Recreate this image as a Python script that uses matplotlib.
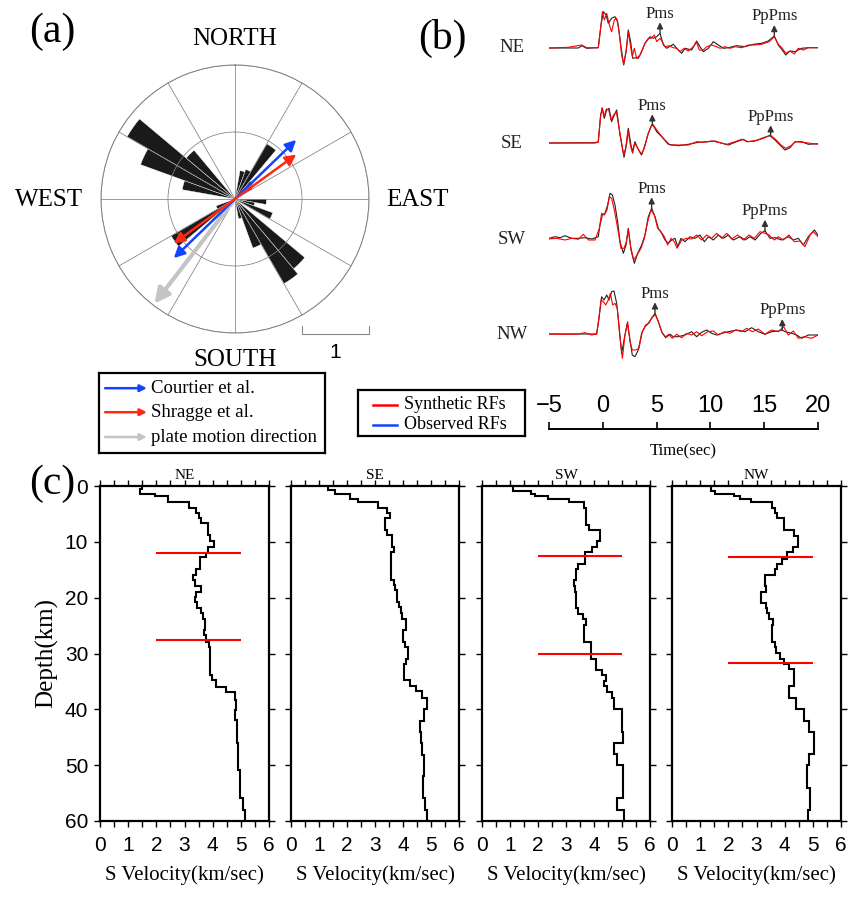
import numpy as np
import matplotlib
matplotlib.use('Agg')
import matplotlib.pyplot as plt
from matplotlib.lines import Line2D

W, H = 848, 902
SERIF = ['Liberation Serif', 'DejaVu Serif']
SANS = ['Liberation Sans', 'DejaVu Sans']
plt.rcParams['font.family'] = SANS

# ---------------- data ----------------
# (a) rose diagram: bin start azimuth (deg, 10 deg bins) and length
rose_az = [10, 20, 30, 40, 50, 90, 100, 110, 130, 140, 150, 160, 230, 240, 280, 290, 300, 310]
rose_len = [0.43, 0.47, 0.95, 0.35, 0.30, 0.47, 0.30, 0.60, 1.36, 1.46, 0.78, 0.30, 1.10, 0.30, 0.80, 1.50, 1.86, 0.95]

# fast directions (azimuth deg, half length)
courtier_az, courtier_len = 46, 1.27
shragge_az, shragge_len = 54, 1.13
plate_az, plate_len = 217.6, 1.97

# (b) receiver functions: (time s, amplitude)
ne_obs = [(-5.0, 0), (-2.27, 0), (-1.96, 2.3), (-1.50, -0.3), (-0.42, 0.3), (-0.17, 23), (0.05, 36.3),
          (0.30, 33), (0.51, 24.7), (0.82, 29.7), (1.13, 31.3), (1.38, 26.3), (1.69, 1.3), (1.94, -17),
          (2.16, -3.7), (2.37, 18), (2.59, 6.3), (2.78, -10.3), (3.05, -9.7), (3.30, -10.3), (3.61, -3.7),
          (3.92, 4.7), (4.39, 11.3), (4.70, 9.7), (5.01, 11.3), (5.32, 14.7), (5.63, 3), (5.94, -0.3),
          (6.55, 3.7), (7.02, -2), (7.33, -5.3), (7.64, -0.3), (8.26, -2), (8.72, 7), (9.03, 1.3),
          (9.34, -3.7), (9.81, -0.3), (10.27, 6.3), (10.74, 3), (11.20, -0.3), (11.67, 0.3), (12.44, 2.3),
          (13.22, 1.3), (13.99, 3.7), (14.76, 4.7), (15.38, 7), (15.94, 12), (16.31, 3), (16.68, -2),
          (17.00, -7), (17.40, -3), (17.86, -3.7), (18.48, -0.3), (19.10, 0.3), (20.0, 0.3)]
ne_syn = [(-5.0, 0), (-3.20, 0.7), (-1.96, 3), (-1.50, 0.3), (-0.42, 0.3), (-0.20, 19.7), (-0.04, 36.3),
          (0.14, 28), (0.36, 34.7), (0.61, 23), (0.82, 16.3), (1.07, 28), (1.29, 29.7), (1.50, 18),
          (1.75, -7), (1.94, -16.3), (2.19, -2), (2.37, 16.3), (2.56, 3), (2.74, -8.7), (2.93, -0.3),
          (3.15, -10.3), (3.46, -7), (3.92, 4.7), (4.23, 9.7), (4.48, 9.7), (4.79, 13), (5.01, 6.3),
          (5.32, 9.7), (5.53, 6.3), (5.78, 1.3), (6.15, 2.3), (6.55, 0.3), (6.86, -0.3), (7.17, -3.7),
          (7.58, -0.3), (7.95, -3), (8.41, 1.3), (8.72, 5.7), (8.97, -2), (9.34, -2), (9.65, 1.3),
          (10.12, 3), (10.58, 1.3), (10.89, -0.3), (11.36, 1.3), (11.82, -0.3), (12.29, 1.3), (12.91, 0.3),
          (13.53, 3), (14.15, 3), (14.76, 3.7), (15.45, 6.3), (15.94, 11.3), (16.31, 3.7), (16.68, -0.3),
          (17.00, -5.3), (17.40, -3), (17.80, -6), (18.17, -0.3), (18.64, -2), (19.10, 0.3), (20.0, 0.3)]
se_obs = [(-5.0, 0), (-0.72, 0.3), (-0.42, 1.3), (-0.20, 28), (-0.04, 34.7), (0.14, 24.7), (0.36, 33),
          (0.58, 34.7), (0.82, 21.3), (1.07, 28), (1.29, 33), (1.60, 8), (1.97, -14.3), (2.22, -0.3),
          (2.37, 14.7), (2.59, -0.3), (2.74, -8.7), (2.99, 1.3), (3.24, -5.3), (3.61, -12), (3.92, -2),
          (4.23, 9.7), (4.54, 18), (4.70, 17.3), (5.01, 11.3), (5.47, 6.3), (6.09, -1.3), (7.02, -2.7),
          (7.95, -1.3), (8.88, 0.7), (9.81, 1.3), (10.43, 2), (10.89, 0.3), (11.67, -2), (12.29, 0.7),
          (13.06, 3.7), (13.37, 1.3), (14.15, 2), (14.92, 5.3), (15.54, 7.3), (16.00, 3), (16.47, -2),
          (16.93, -7), (17.40, -4.7), (17.86, 1.3), (18.48, 1.3), (19.10, -1.3), (20.0, -0.7)]
se_syn = [(-5.0, 0), (-0.72, 0), (-0.42, 0.7), (-0.23, 24.3), (-0.07, 35.3), (0.11, 26.3), (0.33, 34),
          (0.55, 33), (0.76, 23), (1.01, 28), (1.26, 31.3), (1.57, 11.3), (1.94, -12), (2.12, -5.3),
          (2.34, 13), (2.56, -2), (2.78, -10.3), (2.96, -0.3), (3.18, -3.7), (3.55, -11.3), (3.86, -5.3),
          (4.17, 8), (4.48, 16.3), (4.66, 18.7), (4.91, 14.7), (5.32, 8.7), (5.78, 3), (6.25, -2),
          (7.02, -2), (7.95, -2), (8.72, 1.3), (9.34, 0.7), (10.12, 2), (10.74, 0.7), (11.51, -1.3),
          (12.29, 1.3), (12.91, 3.7), (13.53, 1.3), (14.45, 3), (15.07, 5.3), (15.54, 8), (16.06, 3.7),
          (16.56, -2), (17.00, -5.3), (17.49, -2.7), (17.92, 1.3), (18.64, 0.7), (19.26, -0.3), (20.0, -1.3)]
sw_obs = [(-5.0, 1.7), (-4.44, 3.3), (-3.98, 2.3), (-3.51, 4.3), (-2.89, 1.7), (-2.27, 1.7), (-1.65, 2.3),
          (-1.03, 1), (-0.42, 3.3), (-0.26, 15), (-0.04, 25), (0.20, 26.7), (0.45, 35), (0.67, 46.7),
          (0.89, 45), (1.13, 35), (1.38, 18.3), (1.60, -1.7), (1.91, -13.3), (2.16, -5), (2.37, 11.7),
          (2.62, -10), (2.93, -23.3), (3.24, -13.3), (3.61, -5), (3.92, 5), (4.23, 23.3), (4.54, 31.7),
          (4.85, 23.3), (5.16, 11.7), (5.47, 6.7), (5.78, 0), (6.09, -3.3), (6.40, 0), (6.71, 1.7),
          (6.96, -6.7), (7.27, 1.7), (7.64, -1.7), (8.10, 3.3), (8.57, 1.7), (9.03, 5), (9.44, -1.7),
          (9.81, 3.3), (10.27, 0), (10.74, 5), (11.20, 1.7), (11.67, 5), (12.13, 0), (12.75, 3.3),
          (13.22, 0), (13.68, 3.3), (14.15, 0), (14.70, 6.7), (15.07, 9.3), (15.54, 1.7), (16.00, 2.3),
          (16.62, 0), (17.24, 3.3), (17.71, 0), (18.17, 1.7), (18.64, -5), (19.10, 3.3), (19.66, 10), (20.0, 5)]
sw_syn = [(-5.0, 1), (-4.29, 1.7), (-3.51, 0), (-2.89, 1.7), (-2.27, 0.7), (-1.81, 5.7), (-1.34, 0),
          (-0.72, 0), (-0.32, 11.7), (-0.11, 26.7), (0.14, 25), (0.39, 30), (0.61, 43.3), (0.82, 41.7),
          (1.07, 30), (1.38, 11.7), (1.69, -8.3), (1.97, -8.3), (2.19, -1.7), (2.37, 10), (2.59, -6.7),
          (2.87, -20), (3.18, -15), (3.55, -8.3), (3.86, 1.7), (4.17, 18.3), (4.48, 30), (4.79, 25),
          (5.10, 11.7), (5.41, 8.3), (5.72, 3.3), (6.03, -5), (6.34, 1.7), (6.65, -1.7), (6.90, -8.3),
          (7.33, 0), (7.79, 1.7), (8.26, 1), (8.72, 5), (9.19, 0), (9.65, 5), (10.12, 1.7), (10.58, 6.7),
          (11.05, 1.7), (11.51, 6.7), (11.98, 1), (12.53, 5), (13.06, 0), (13.59, 5), (14.08, 1.7),
          (14.61, 8.3), (15.07, 6.7), (15.45, 5), (15.94, 0), (16.31, 3.3), (16.78, 0), (17.30, 5),
          (17.80, -1.7), (18.33, -1), (18.79, -6.7), (19.26, 5), (19.57, 8.3), (20.0, 3.3)]
nw_obs = [(-5.0, 0), (-2.89, 0), (-1.34, 0), (-0.57, 0), (-0.35, 15.7), (-0.11, 37.3), (0.11, 34),
          (0.36, 39), (0.58, 34), (0.82, 42.3), (1.04, 43), (1.29, 30.7), (1.50, 9), (1.75, -19.3),
          (2.00, -4.3), (2.28, 10.7), (2.53, -6), (2.74, -21), (2.99, -22.7), (3.30, -16), (3.61, 0.7),
          (3.92, 7.3), (4.23, 10.7), (4.54, 15.7), (4.85, 20.7), (5.16, 12.3), (5.47, 2.3), (5.84, -3.7),
          (6.25, -0.3), (6.55, -2.7), (7.02, -2.7), (7.64, -1), (8.26, 2.3), (8.72, -2.7), (9.19, 1.7),
          (9.65, 4), (10.12, 0.7), (10.58, -1), (11.05, 0.7), (11.67, 2.3), (12.44, 4), (13.22, 2.3),
          (13.83, 6.3), (14.45, 2.3), (15.07, -0.3), (15.69, 2.3), (16.31, 3), (16.68, 4), (16.93, 2.3),
          (17.55, 0.7), (18.02, -1), (18.48, -4.3), (19.10, -1), (20.0, -1)]
nw_syn = [(-5.0, 0), (-3.51, -0.3), (-2.27, 0), (-1.65, 1.3), (-1.03, -1), (-0.57, 0), (-0.35, 17.3),
          (-0.17, 34), (0.05, 32.3), (0.27, 29), (0.51, 34), (0.70, 40.7), (0.92, 29), (1.13, 30.7),
          (1.35, 25.7), (1.57, -1), (1.82, -24.3), (2.06, -1), (2.31, 12.3), (2.53, -7.7), (2.74, -16),
          (3.05, -16), (3.36, -14.3), (3.67, 2.3), (3.98, 9), (4.29, 10.7), (4.60, 17.3), (4.91, 19),
          (5.22, 10.7), (5.53, 0.7), (5.84, -2.7), (6.15, -0.3), (6.46, -4.3), (6.86, -0.3), (7.33, -3.7),
          (7.79, 0.7), (8.26, -1), (8.72, 2.3), (9.19, -1.7), (9.75, 2.3), (10.27, 3), (10.74, -1),
          (11.29, 2.3), (11.82, 0.7), (12.35, 4), (12.91, 2.3), (13.37, 5.7), (13.90, 2.3), (14.45, 5),
          (15.07, -0.3), (15.69, 4), (16.31, 2.3), (16.81, 7.3), (17.24, -1), (17.71, 3), (18.17, -4.3),
          (18.73, -2.7), (19.41, -4.3), (20.0, -1)]

quadrants = ['NE', 'SE', 'SW', 'NW']
pms_t = [5.32, 4.60, 4.54, 4.85]
pppms_t = [15.94, 15.60, 15.07, 16.68]
time_ticks = [-5, 0, 5, 10, 15, 20]

# (c) S-velocity models: layer top depth (km) and Vs (km/s)
ne_top = [0, 0.5, 1.4, 1.8, 2.9, 3.9, 4.8, 5.8, 6.7, 8.8, 9.8, 10.9, 12.0, 12.8, 14.9, 16.0, 16.9, 17.9,
          19.0, 19.9, 20.8, 21.8, 22.8, 23.9, 25.8, 26.7, 27.9, 28.8, 33.9, 34.8, 36.0, 36.9, 38.3, 40.1,
          41.9, 46.1, 50.9, 55.9, 58.0]
ne_vs = [1.48, 1.43, 1.95, 2.42, 3.15, 3.40, 3.52, 3.57, 3.84, 3.90, 4.05, 3.84, 3.76, 3.54, 3.42, 3.31,
         3.38, 3.60, 3.42, 3.37, 3.45, 3.58, 3.66, 3.74, 3.70, 3.78, 3.86, 3.92, 3.99, 4.11, 4.49, 4.81,
         4.84, 4.81, 4.87, 4.91, 4.96, 5.08, 5.16]
se_top = [0, 0.8, 1.5, 2.4, 2.9, 3.9, 4.8, 5.8, 7.9, 8.8, 10.9, 11.9, 16.9, 17.8, 18.7, 20.7, 21.6, 22.8,
          23.9, 25.8, 27.9, 28.8, 30.9, 31.8, 34.8, 35.9, 36.8, 38.0, 40.0, 42.0, 44.0, 46.0, 48.2, 52.0,
          55.9, 58.0]
se_vs = [1.33, 1.57, 2.10, 2.40, 3.11, 3.43, 3.53, 3.34, 3.43, 3.61, 3.68, 3.56, 3.68, 3.72, 3.79, 3.86,
         3.93, 3.98, 4.09, 4.00, 4.08, 4.17, 4.09, 4.05, 4.24, 4.48, 4.69, 4.84, 4.74, 4.62, 4.66, 4.69,
         4.75, 4.72, 4.78, 4.85]
sw_top = [0, 0.9, 1.5, 1.8, 2.4, 2.9, 3.9, 6.9, 7.9, 9.9, 10.9, 11.8, 13.9, 14.9, 16.9, 17.9, 19.0, 21.8,
          22.9, 23.9, 24.9, 27.9, 30.9, 32.9, 33.9, 34.9, 35.9, 36.9, 38.0, 40.0, 44.0, 46.0, 48.0, 50.0,
          55.9, 58.0]
sw_vs = [1.12, 1.74, 1.90, 2.35, 3.12, 3.65, 3.71, 3.82, 4.21, 4.12, 3.94, 3.68, 3.44, 3.37, 3.29, 3.33,
         3.37, 3.44, 3.62, 3.71, 3.65, 3.88, 4.06, 4.27, 4.43, 4.36, 4.45, 4.63, 4.73, 4.99, 5.02, 4.71,
         4.83, 5.05, 4.83, 5.07]
nw_top = [0, 0.9, 1.5, 1.8, 2.4, 2.9, 3.9, 4.8, 5.8, 7.9, 8.9, 10.9, 11.8, 13.0, 13.9, 14.9, 15.9, 17.9,
          18.9, 20.9, 21.8, 22.8, 23.9, 24.9, 27.9, 28.8, 29.9, 30.9, 31.8, 32.8, 35.9, 38.0, 40.0, 42.0,
          44.0, 48.0, 50.0, 54.0, 58.0]
nw_vs = [1.38, 1.53, 2.21, 2.42, 2.81, 3.56, 3.64, 3.72, 3.96, 4.32, 4.49, 4.29, 4.08, 3.90, 3.72, 3.64,
         3.31, 3.34, 3.17, 3.34, 3.39, 3.45, 3.60, 3.54, 3.64, 3.69, 3.82, 3.98, 4.14, 4.32, 4.17, 4.41,
         4.67, 4.85, 5.03, 4.85, 4.79, 4.89, 4.83]
# interface depths (red bars) for each quadrant
interfaces = [[12.0, 27.5], [], [12.5, 30.0], [12.8, 31.7]]


def box(l, t, r, b):
    return [l / W, 1 - b / H, (r - l) / W, (b - t) / H]


fig = plt.figure(figsize=(W / 100, H / 100), dpi=100)

# ---------------- (a) rose diagram ----------------
ax = fig.add_axes(box(101, 65, 369, 333), projection='polar')
ax.set_theta_zero_location('N')
ax.set_theta_direction(-1)
ax.bar(np.deg2rad(np.array(rose_az) + 5), rose_len, width=np.deg2rad(10), color='#1a1a1a',
       edgecolor='white', linewidth=0.3, zorder=1)
ax.set_ylim(0, 2)
ax.set_xticks(np.deg2rad(np.arange(0, 360, 30)))
ax.set_xticklabels([''] * 12)
ax.set_yticks([1, 2])
ax.set_yticklabels(['', ''])
ax.grid(True, color='#808080', lw=0.55)
ax.set_axisbelow(False)
ax.spines['polar'].set_color('#808080')
ax.spines['polar'].set_linewidth(0.7)

ax.annotate('', xy=(np.deg2rad(courtier_az), courtier_len),
            xytext=(np.deg2rad(courtier_az + 180), courtier_len),
            arrowprops=dict(arrowstyle='<|-|>', color='#1244ff', lw=1.8, mutation_scale=16,
                            shrinkA=0, shrinkB=0), zorder=5)
ax.annotate('', xy=(np.deg2rad(shragge_az), shragge_len),
            xytext=(np.deg2rad(shragge_az + 180), shragge_len),
            arrowprops=dict(arrowstyle='<|-|>', color='#ff2a14', lw=1.8, mutation_scale=16,
                            shrinkA=0, shrinkB=0), zorder=6)
ax.annotate('', xy=(np.deg2rad(plate_az), plate_len), xytext=(0, 0),
            arrowprops=dict(arrowstyle='-|>', color='#c4c4c4', lw=3, mutation_scale=22,
                            shrinkA=0, shrinkB=0), zorder=4)

# scale bar (1 unit = ring spacing)
fig.add_artist(Line2D([302 / W, 302 / W, 369 / W, 369 / W],
                      [1 - 326 / H, 1 - 334 / H, 1 - 334 / H, 1 - 326 / H], color='#888888', lw=0.8))
fig.text(335 / W, 1 - 352 / H, '1', fontsize=15, ha='center', va='center')

for txt, x, y in [('NORTH', 235, 39), ('SOUTH', 235, 360), ('WEST', 49, 200), ('EAST', 417, 200)]:
    fig.text(x / W, 1 - y / H, txt, fontsize=18, family=SERIF, ha='center', va='center')

# legend for (a)
axl = fig.add_axes(box(99, 373, 325, 453))
axl.set_xlim(0, 1)
axl.set_ylim(0, 1)
axl.set_xticks([])
axl.set_yticks([])
for s in axl.spines.values():
    s.set_linewidth(1.6)
for yy, col, lab in [(0.81, '#1244ff', 'Courtier et al.'), (0.51, '#ff2a14', 'Shragge et al.'),
                     (0.20, '#c4c4c4', 'plate motion direction')]:
    axl.annotate('', xy=(0.212, yy), xytext=(0.027, yy),
                 arrowprops=dict(arrowstyle='-|>', color=col, lw=1.8, mutation_scale=10,
                                 shrinkA=0, shrinkB=0))
    axl.text(0.23, yy, lab, fontsize=13.5, family=SERIF, va='center', ha='left')

# ---------------- (b) receiver functions ----------------
axb = fig.add_axes(box(549, 0, 818, 380))
axb.set_xlim(-5, 20)
axb.set_ylim(380, 0)
axb.axis('off')
baselines = [48, 143, 240, 334]
obs_list = [ne_obs, se_obs, sw_obs, nw_obs]
syn_list = [ne_syn, se_syn, sw_syn, nw_syn]
for i, name in enumerate(quadrants):
    y0 = baselines[i]
    to, ao = np.array(obs_list[i]).T
    ts, a_s = np.array(syn_list[i]).T
    axb.plot(to, y0 - ao, color='#222222', lw=0.8)
    axb.plot(ts, y0 - a_s, color='red', lw=0.8)
    for tp, lab in [(pms_t[i], 'Pms'), (pppms_t[i], 'PpPms')]:
        a0 = np.interp(tp, to, ao)
        axb.annotate('', xy=(tp, y0 - a0 - 11), xytext=(tp, y0 - a0),
                     arrowprops=dict(arrowstyle='-|>', color='#333333', lw=1, mutation_scale=9,
                                     shrinkA=0, shrinkB=0))
        axb.text(tp, y0 - a0 - 11.5, lab, fontsize=12, family=SERIF, color='#222222',
                 ha='center', va='bottom')
    fig.text(512 / W, 1 - y0 / H, name, fontsize=13.5, family=SERIF, ha='center', va='center',
             color='#222222')

axt = fig.add_axes(box(549, 429, 818, 440))
axt.set_xlim(-5, 20)
axt.patch.set_visible(False)
for s in ['left', 'right', 'bottom']:
    axt.spines[s].set_visible(False)
axt.spines['top'].set_linewidth(1.4)
axt.xaxis.tick_top()
axt.set_xticks(time_ticks)
axt.set_yticks([])
axt.tick_params(axis='x', direction='out', length=5, width=1.2, pad=4, labelsize=17)
fig.text(683 / W, 1 - 451 / H, 'Time(sec)', fontsize=12, family=SERIF, ha='center', va='center')

# legend for (b)
axl2 = fig.add_axes(box(358, 390, 525, 436))
axl2.set_xlim(0, 1)
axl2.set_ylim(0, 1)
axl2.set_xticks([])
axl2.set_yticks([])
for s in axl2.spines.values():
    s.set_linewidth(1.6)
for yy, col, lab in [(0.674, 'red', 'Synthetic RFs'), (0.24, '#1244ff', 'Observed RFs')]:
    axl2.plot([0.09, 0.233], [yy, yy], color=col, lw=1.8)
    axl2.text(0.275, yy, lab, fontsize=13, family=SERIF, va='center', ha='left')

# ---------------- (c) velocity models ----------------
c_boxes = [(100, 486, 269, 821), (291, 486, 459, 821), (482, 486, 650, 821), (672, 486, 841, 821)]
tops = [ne_top, se_top, sw_top, nw_top]
vels = [ne_vs, se_vs, sw_vs, nw_vs]
for i, name in enumerate(quadrants):
    axc = fig.add_axes(box(*c_boxes[i]))
    edges = np.append(tops[i], 60)
    axc.stairs(vels[i], edges, orientation='horizontal', baseline=None, color='black', lw=1.5)
    for d in interfaces[i]:
        axc.hlines(d, 2, 5, color='red', lw=1.5)
    axc.set_xlim(0, 6)
    axc.set_ylim(60, 0)
    axc.set_xticks(range(7))
    axc.set_xticks(np.arange(0.5, 6, 1.0), minor=True)
    axc.set_yticks(range(0, 61, 10))
    axc.tick_params(axis='x', which='both', direction='out', top=True, length=4.5, width=1,
                    pad=6, labelsize=15)
    axc.tick_params(axis='y', direction='out', right=True, length=4.5, width=1, pad=4,
                    labelsize=15, labelleft=(i == 0))
    for s in axc.spines.values():
        s.set_linewidth(1.6)
    axc.set_title(name, fontsize=11, family=SERIF, pad=5)
    axc.set_xlabel('S Velocity(km/sec)', fontsize=15, family=SERIF, labelpad=8)
    if i == 0:
        axc.set_ylabel('Depth(km)', fontsize=18, family=SERIF, labelpad=5)

for lab, x, y in [('(a)', 52, 32), ('(b)', 442, 38), ('(c)', 52, 484)]:
    fig.text(x / W, 1 - y / H, lab, fontsize=30, family=SERIF, ha='center', va='center')

fig.savefig('out.png', dpi=100)
